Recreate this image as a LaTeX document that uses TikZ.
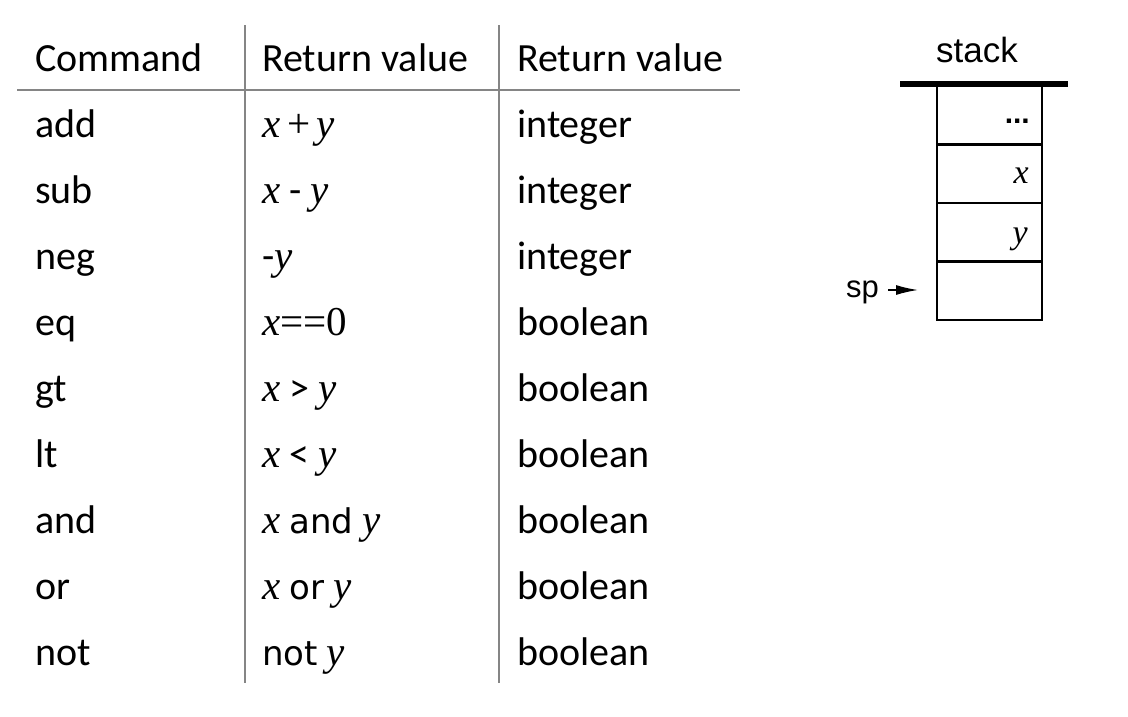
\documentclass[tikz,border=0pt]{standalone}
\usepackage{fontspec}
\setmainfont{Carlito}
\newfontfamily\serf{Liberation Serif}
\newfontfamily\dvs{DejaVu Sans}
\newfontfamily\ars{Liberation Sans}
\usetikzlibrary{arrows.meta}
\newcommand\vx{{\serf\itshape\fontsize{41}{46}\selectfont x}}
\newcommand\vy{{\serf\itshape\fontsize{41}{46}\selectfont y}}
\newcommand\dvw[1]{{\dvs\fontsize{34}{38}\selectfont #1}}
\begin{document}
\begin{tikzpicture}[x=1pt,y=-1pt,
  txt/.style={anchor=base west,inner sep=0pt,font=\fontsize{40}{46}\selectfont},
  rule/.style={draw=black!48,line width=1.8pt},
  cell/.style={draw=black,line width=2.2pt,minimum width=105pt,minimum height=58pt,inner sep=0pt,anchor=north west},
  sptxt/.style={inner sep=0pt,font=\ars\fontsize{31}{36}\selectfont}]
\useasboundingbox (0,0) rectangle (1128,716);
\fill[white] (0,0) rectangle (1128,716);
% table rules
\coordinate (h1) at (17,90); \coordinate (h2) at (740,90);
\coordinate (v1t) at (245,25); \coordinate (v1b) at (245,683);
\coordinate (v2t) at (499,25); \coordinate (v2b) at (499,683);
\draw[rule] (h1) -- (h2);
\draw[rule] (v1t) -- (v1b);
\draw[rule] (v2t) -- (v2b);
% header
\node[txt] (hc) at (35,71) {Command};
\node[txt] (hr1) at (262,71) {Return value};
\node[txt] (hr2) at (517,71) {Return value};
% rows
\foreach \i/\c/\e/\t in {0/add/{\vx\,{\serf\fontsize{41}{46}\selectfont +}\,\vy}/integer,
  1/sub/{\vx\ -\ \vy}/integer,
  2/neg/{-\vy}/integer,
  3/eq/{\vx{\serf\fontsize{41}{46}\selectfont ==0}}/boolean,
  4/gt/{\vx\ >\ \vy}/boolean,
  5/lt/{\vx\ <\ \vy}/boolean,
  6/and/{\vx\ \dvw{and}\ \vy}/boolean,
  7/or/{\vx\ \dvw{or}\ \vy}/boolean,
  8/not/{\dvw{not}\ \vy}/boolean}{
  \node[txt] (c\i) at (35,137+66*\i) {\c};
  \node[txt] (e\i) at (262,137+66*\i) {\e};
  \node[txt] (t\i) at (517,137+66*\i) {\t};
}
% stack
\node[sptxt,font=\ars\fontsize{35}{40}\selectfont,anchor=base] (stk) at (977,62) {stack};
\node[cell] (s1) at (936,85) {};
\node[cell] (s2) at (936,144) {};
\node[cell] (s3) at (936,202) {};
\node[cell] (s4) at (936,261) {};
\coordinate (tl) at (900,84); \coordinate (tr) at (1068,84);
\draw[line width=6pt] (tl) -- (tr);
\node[inner sep=0pt,anchor=base east,font=\ars\bfseries\fontsize{30}{34}\selectfont] (dots) at (1030,123) {...};
\node[inner sep=0pt,anchor=base east,font=\serf\itshape\fontsize{34}{38}\selectfont] (sx) at (1029,183) {x};
\node[inner sep=0pt,anchor=base east,font=\serf\itshape\fontsize{34}{38}\selectfont] (sy) at (1028,243) {y};
\node[sptxt,anchor=base west] (sp) at (846,297) {sp};
\draw[line width=1.5pt,-{Latex[length=22pt,width=10pt]},shorten <=9pt,shorten >=18pt] (sp.east |- 0,290) -- (s4.west |- 0,290);
\end{tikzpicture}
\end{document}
